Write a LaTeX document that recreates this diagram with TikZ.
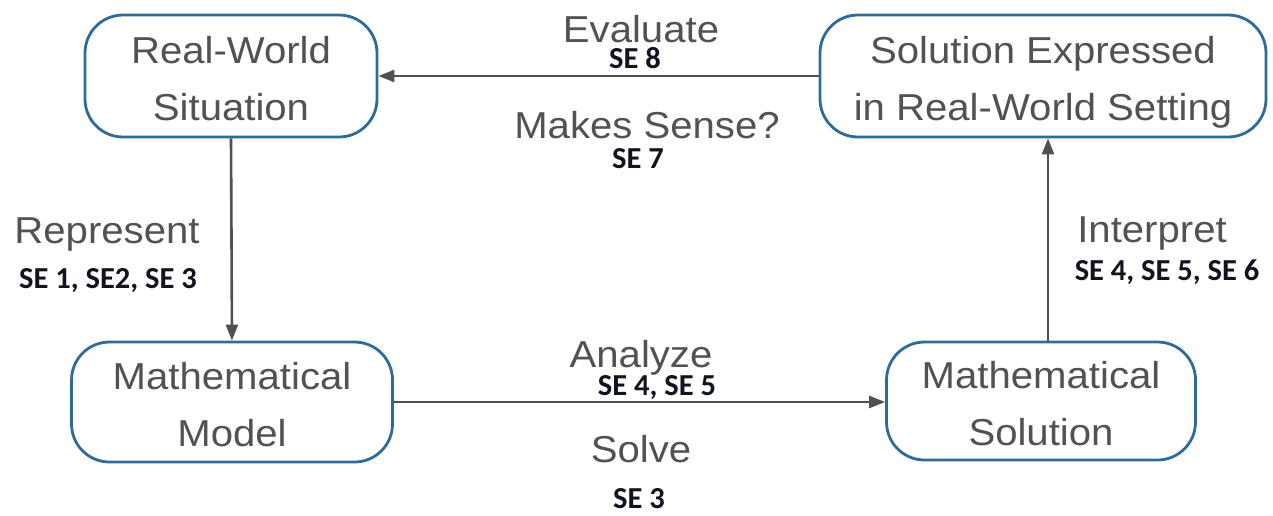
\documentclass[tikz,border=0pt]{standalone}
\usepackage{fontspec}
\usetikzlibrary{arrows.meta}
\newfontfamily\labfont[FakeStretch=1.07]{Liberation Sans}
\newfontfamily\sefont{Carlito}
\definecolor{boxblue}{HTML}{2F6B98}
\definecolor{labgray}{HTML}{525252}
\definecolor{arrowgray}{HTML}{505050}
\definecolor{sedark}{HTML}{10141E}
% two centred lines, lowered a little inside their box without changing its size
\newcommand{\stagetext}[2]{\raisebox{-5pt}[\height][\depth]{\begin{tabular}{@{}c@{}}#1\\#2\end{tabular}}}
\tikzset{
  stagebox/.style={draw=boxblue, line width=2.8pt, rounded corners=38pt, fill=white,
    inner sep=0pt, text=labgray,
    font=\labfont\fontsize{37.5}{57}\selectfont},
  steplabel/.style={anchor=base, inner sep=0pt, text=labgray,
    font=\labfont\fontsize{37.5}{44}\selectfont},
  selabel/.style={anchor=base, inner sep=0pt, text=sedark,
    font=\sefont\bfseries\fontsize{30.5}{36}\selectfont},
  flow/.style={draw=arrowgray, line width=2.6pt,
    -{Triangle[length=16pt,width=12pt]}}
}
\begin{document}
\begin{tikzpicture}[x=1pt,y=-1pt]
  \useasboundingbox (0,0) rectangle (1273,515);

  % the four stages of the modelling cycle
  \node[stagebox, minimum width=292pt, minimum height=122pt] (rw) at (231,76)
    {\stagetext{Real-World}{Situation}};
  \node[stagebox, minimum width=446pt, minimum height=122pt] (se) at (1043,76)
    {\stagetext{Solution Expressed}{in Real-World Setting}};
  \node[stagebox, minimum width=321pt, minimum height=120pt] (mm) at (232,402)
    {\stagetext{Mathematical}{Model}};
  \node[stagebox, minimum width=309pt, minimum height=118pt] (ms) at (1041,401)
    {\stagetext{Mathematical}{Solution}};

  % connectors
  \coordinate (ix) at (1048,0);
  \draw[flow] (se.west) -- (rw.east);
  \draw[flow] (rw.south) -- (mm.north);
  \draw[flow] (mm.east) -- (mm.east -| ms.west);
  \draw[flow] (ms.north -| ix) -- (se.south -| ix);

  % step names
  \node[steplabel] (lev) at (641,42) {Evaluate};
  \node[steplabel] (lmk) at (647,138) {Makes Sense?};
  \node[steplabel] (lrep) at (107,243) {Represent};
  \node[steplabel] (lint) at (1152,242) {Interpret};
  \node[steplabel] (lana) at (641,367) {Analyze};
  \node[steplabel] (lsol) at (641,462) {Solve};

  % standards tags
  \node[selabel] (s8) at (635,68) {SE 8};
  \node[selabel] (s7) at (638,168) {SE 7};
  \node[selabel] (s123) at (108,288) {SE 1, SE2, SE 3};
  \node[selabel] (s456) at (1167,280) {SE 4, SE 5, SE 6};
  \node[selabel] (s45) at (657,395) {SE 4, SE 5};
  \node[selabel] (s3) at (639,508) {SE 3};
\end{tikzpicture}
\end{document}
